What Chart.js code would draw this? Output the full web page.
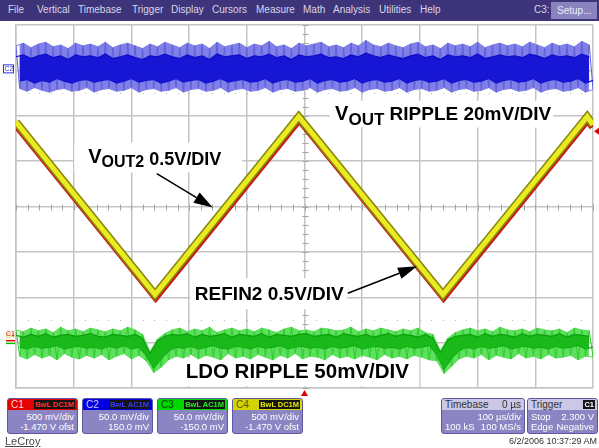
<!DOCTYPE html>
<html><head><meta charset="utf-8">
<script src="https://cdn.jsdelivr.net/npm/chart.js@4.4.0/dist/chart.umd.min.js"></script>
<style>
html,body{margin:0;padding:0;background:#fff;}
#wrap{position:relative;width:599px;height:448px;overflow:hidden;font-family:"Liberation Sans",Arial,sans-serif;}
#c{position:absolute;left:0;top:0;}
#menu{position:absolute;left:0;top:0;width:599px;height:21px;background:#3e3479;}
#menu span{position:absolute;top:4px;font-size:10px;color:#d8d6ea;line-height:12px;white-space:nowrap}
#menu .setup{left:551px;top:2px;width:46px;height:17px;line-height:17px;background:#8983be;color:#ecebf6;text-indent:6px}
.box{position:absolute;top:398px;height:36px;background:#8b86c3;border:1px solid #5d58a0;border-radius:3px;color:#fff;font-size:9.5px;overflow:hidden;box-sizing:border-box}
.hdr{position:absolute;left:0;top:0;right:0;height:11px;line-height:11px;font-size:10px;padding-left:3px}
.bdg{position:absolute;top:1px;height:9px;line-height:9px;font-size:7.5px;background:#141414;padding:0 1px;font-weight:bold}
.r1,.r2,.l1,.l2{position:absolute;line-height:10px;white-space:nowrap}
.r1,.r2{right:3px}.l1,.l2{left:3px}
.r1,.l1{top:13px}.r2,.l2{top:23px}
#logo{position:absolute;left:5px;top:435px;font-size:11px;color:#4a4a4a;text-decoration:underline}
#date{position:absolute;right:2px;top:436px;font-size:9px;color:#333}
</style></head>
<body><div id="wrap">
<canvas id="c" width="599" height="448"></canvas>
<div id="menu"></div>
<div id="panel"></div>
<div id="logo">LeCroy</div>
<div id="date"></div>
</div>
<script>
// ---------- data ----------
const TIME_MIN_US = -500, TIME_MAX_US = 500, TIME_DIV_US = 100;
const DIVS_Y = 8;

// C4 (yellow) and C1 (red) triangle vertices: time (us), volts
const C4_T = [-500, -259, -10, 240, 490, 500];
const C4_V = [2.40, 0.50, 2.46, 0.50, 2.46, 2.37];
const C1_T = [-500, -258, -9, 241, 491, 500];
const C1_V = [2.375, 0.475, 2.435, 0.475, 2.435, 2.345];

// C2 ripple (mV), uniformly sampled over the record (alternating peak / trough samples)
const C2_ENV = [27,-20,30,-23,25,-19,29,-22,31,-24,26,-21,28,-20,24,-23,30,-22,27,-19,
29,-24,26,-21,31,-20,25,-23,28,-22,30,-19,27,-24,24,-21,29,-20,26,-23,
31,-22,28,-19,25,-24,30,-21,27,-20,29,-23,24,-22,31,-19,26,-24,28,-21,
30,-20,25,-23,29,-22,27,-19,32,-24,26,-21,28,-20,24,-23,30,-22,27,-19,
29,-24,31,-21,26,-20,28,-23,25,-22,30,-19,27,-24,33,-21,28,-20,26,-23,
30,-22,27,-19,25,-24,29,-21,31,-20,26,-23,28,-22,24,-19,30,-24,27,-21,
29,-20,26,-23,31,-22,25,-19,28,-24,30,-21,27,-20,29,-23,26,-22,31,-19,
28,-24,25,-21,30,-20,27,-23,29,-22,26,-19,32,-24,28,-21];
const C2_CORE = [15,-12,17,-10,13,-14,16,-11,18,-13,14,-9,16,-12,12,-14,17,-11,15,-10,
16,-13,14,-11,18,-10,13,-14,15,-12,17,-9,14,-13,12,-11,16,-10,15,-14,
18,-12,15,-9,13,-13,17,-11,14,-10,16,-14,12,-12,18,-9,15,-13,16,-11,
17,-10,13,-13,16,-12,15,-9,18,-14,14,-11,16,-10,12,-13,17,-12,15,-9,
16,-14,18,-11,14,-10,15,-13,13,-12,17,-9,15,-14,19,-11,16,-10,14,-13,
17,-12,15,-9,13,-14,16,-11,18,-10,14,-13,16,-12,12,-9,17,-14,15,-11,
16,-10,14,-13,18,-12,13,-9,15,-14,17,-11,15,-10,16,-13,14,-12,18,-9,
16,-14,13,-11,17,-10,15,-13,16,-12,14,-9,18,-14,15,-11];

// C3 LDO ripple (mV): envelope and core, with load-step dips
const C3_ENV = [14,-15,12,-18,16,-13,13,-17,15,-14,11,-19,17,-12,13,-16,15,-18,12,-14,
16,-17,14,-13,12,-19,15,-15,13,-12,17,-18,14,-14,9,-20,-10,-33,4,-27,
10,-19,14,-15,16,-17,12,-13,15,-18,13,-14,17,-16,11,-19,14,-12,16,-17,
13,-15,15,-18,12,-13,16,-16,14,-19,11,-14,15,-17,17,-12,13,-18,14,-15,
12,-16,16,-19,15,-13,13,-17,14,-15,17,-18,12,-14,15,-16,13,-19,16,-13,
14,-17,12,-15,15,-18,13,-14,16,-16,11,-19,9,-20,-9,-34,5,-26,11,-18,
14,-15,16,-17,13,-13,15,-19,12,-14,17,-16,14,-18,13,-12,15,-17,12,-15,
16,-18,14,-13,13,-17,15,-16,11,-14,16,-19,14,-15,13,-16];
const C3_CORE = [8,-5,6,-7,9,-4,7,-6,10,-5,6,-3,8,-7,9,-5,7,-4,8,-6,
10,-5,7,-7,6,-4,9,-6,8,-3,7,-7,9,-5,5,-14,-12,-28,2,-18,
7,-9,9,-5,8,-6,10,-4,6,-7,9,-5,7,-3,8,-6,10,-7,6,-4,
9,-5,8,-7,7,-4,10,-6,6,-5,9,-3,8,-7,7,-5,9,-4,10,-6,
7,-5,8,-7,9,-4,6,-6,10,-5,8,-3,7,-7,9,-5,6,-4,8,-6,
10,-5,7,-7,9,-4,8,-6,6,-5,9,-3,5,-13,-11,-29,3,-17,7,-9,
8,-5,9,-7,6,-4,10,-6,7,-5,9,-3,8,-7,6,-5,10,-4,7,-6,
9,-5,8,-7,7,-4,10,-6,6,-5,9,-3,8,-7,7,-5];

// channel settings
const CH_NAMES = ['C1','C2','C3','C4'];
const CH_VDIV = [0.5, 50, 50, 0.5];          // V/div or mV/div
const CH_OFFSET = [-1.47, 150, -150, -1.47];  // same units
const CH_VDIV_TXT = ['500 mV/div','50.0 mV/div','50.0 mV/div','500 mV/div'];
const CH_OFS_TXT = ['-1.470 V ofst','150.0 mV','-150.0 mV','-1.470 V ofst'];
const CH_COUPLING = ['DC1M','AC1M','AC1M','DC1M'];
const TRIG_LEVEL_V = 2.300, TRIG_TIME_US = 0;

const MENU_ITEMS = ['File','Vertical','Timebase','Trigger','Display','Cursors','Measure','Math','Analysis','Utilities','Help'];
const DATE_TXT = '6/2/2006 10:37:29 AM';

// ---------- layout / style (not data) ----------
const MENU_X = [8,37,78,132,171,212,256,303,333,379,420];
const CH_BOX_X = [7,82,157,232];
const CH_HDR_BG = ['#e60000','#0000e0','#00d800','#d4d400'];
const CH_HDR_FG = ['#ffd8d8','#c8c8ff','#064d06','#5a5a00'];
const CH_BDG_FG = ['#ff3030','#3c3cff','#22ee22','#e6e600'];

const LABELS = [
  {t:-375, d:4.967, parts:[['V',20,0],['OUT2',16,4],[' 0.5V/DIV',18,2]], box:[-399,-108,5.41,4.75]},
  {t:53, d:5.912, parts:[['V',20,0],['OUT',17,5],[' RIPPLE 20mV/DIV',19,0]], box:[44,431,6.33,5.74]},
  {t:-190, d:1.934, parts:[['REFIN2 0.5V/DIV',19,0]], box:[-198,74,2.42,1.74]},
  {t:-206, d:0.22, parts:[['LDO RIPPLE 50mV/DIV',20.5,0]], box:[-216,199,0.66,0.04]}
];
const ARROWS = [ {from:[-256,4.725], to:[-159,3.978]}, {from:[75,2.088], to:[195,2.681]} ];
const DOT_ROWS = [6.5, 1.5];

// ---------- HTML chrome ----------
const menu = document.getElementById('menu');
MENU_ITEMS.forEach((m,i)=>{const s=document.createElement('span');s.textContent=m;s.style.left=MENU_X[i]+'px';menu.appendChild(s);});
{const s=document.createElement('span');s.textContent='C3:';s.style.left='534px';menu.appendChild(s);
 const b=document.createElement('span');b.className='setup';b.textContent='Setup...';menu.appendChild(b);}
const panel = document.getElementById('panel');
CH_NAMES.forEach((n,i)=>{
  const d=document.createElement('div');d.className='box';d.style.left=CH_BOX_X[i]+'px';d.style.width='71px';
  d.innerHTML=`<div class="hdr" style="background:${CH_HDR_BG[i]};color:${CH_HDR_FG[i]}">${n}</div>`+
    `<div class="bdg" style="right:25px;color:${CH_BDG_FG[i]}">BwL</div>`+
    `<div class="bdg" style="right:2px;color:${CH_BDG_FG[i]}">${CH_COUPLING[i]}</div>`+
    `<div class="r1">${CH_VDIV_TXT[i]}</div><div class="r2">${CH_OFS_TXT[i]}</div>`;
  panel.appendChild(d);
});
{
  const tb=document.createElement('div');tb.className='box';tb.style.left='441px';tb.style.width='84px';
  tb.innerHTML=`<div class="hdr" style="background:#cbc7e4;color:#333">Timebase<span style="position:absolute;right:3px">0 µs</span></div>`+
   `<div class="r1">${TIME_DIV_US} µs/div</div><div class="l2">100 kS</div><div class="r2">100 MS/s</div>`;
  panel.appendChild(tb);
  const tr=document.createElement('div');tr.className='box';tr.style.left='527px';tr.style.width='71px';
  tr.innerHTML=`<div class="hdr" style="background:#cbc7e4;color:#333">Trigger</div>`+
   `<div class="bdg" style="right:2px;color:#fff">C1</div>`+
   `<div class="l1">Stop</div><div class="r1">${TRIG_LEVEL_V.toFixed(3)} V</div><div class="l2">Edge</div><div class="r2">Negative</div>`;
  panel.appendChild(tr);
}
document.getElementById('date').textContent = DATE_TXT;

// ---------- chart ----------
const sampled = arr => arr.map((v,i)=>({x: TIME_MIN_US + i*(TIME_MAX_US-TIME_MIN_US)/(arr.length-1), y: v}));
const peaks = arr => sampled(arr).filter((_,i)=>i%2===0);
const troughs = arr => sampled(arr).filter((_,i)=>i%2===1);
const pairs = (t,v) => t.map((x,i)=>({x, y:v[i]}));
const axisRange = i => ({min: -CH_OFFSET[i] - DIVS_Y/2*CH_VDIV[i], max: -CH_OFFSET[i] + DIVS_Y/2*CH_VDIV[i]});

const GRID = 'rgb(196,196,196)';
const scopeDecor = {
  id:'scopeDecor',
  beforeDatasetsDraw(chart){
    const {ctx, scales:{x, yDiv}} = chart;
    ctx.save();
    ctx.strokeStyle='rgb(165,165,165)'; ctx.lineWidth=1;
    const cx = Math.round(x.getPixelForValue(0))+0.5, cy = Math.round(yDiv.getPixelForValue(DIVS_Y/2))+0.5;
    ctx.beginPath();
    for (let i=0;i<=DIVS_Y*5;i++){const y=Math.round(yDiv.getPixelForValue(i/5))+0.5;ctx.moveTo(cx-3,y);ctx.lineTo(cx+3,y);}
    for (let i=0;i<=50;i++){const px=Math.round(x.getPixelForValue(TIME_MIN_US+i*20))+0.5;ctx.moveTo(px,cy-3);ctx.lineTo(px,cy+3);}
    ctx.stroke();
    ctx.fillStyle='rgb(185,185,185)';
    DOT_ROWS.forEach(d=>{const y=Math.round(yDiv.getPixelForValue(d));
      for (let i=1;i<50;i++){const px=Math.round(x.getPixelForValue(TIME_MIN_US+i*20));ctx.fillRect(px,y,1,1);}});
    ctx.fillStyle='#fff';
    LABELS.forEach(L=>{const [t0,t1,d0,d1]=L.box;
      const X0=x.getPixelForValue(t0),X1=x.getPixelForValue(t1),Y0=yDiv.getPixelForValue(d0),Y1=yDiv.getPixelForValue(d1);
      ctx.fillRect(X0,Y0,X1-X0,Y1-Y0);});
    ctx.restore();
  },
  afterDatasetsDraw(chart){
    const {ctx, chartArea:a, scales:{x, yDiv, yV, yC2, yC3}} = chart;
    ctx.save();
    ctx.fillStyle='#000'; ctx.textBaseline='alphabetic';
    LABELS.forEach(L=>{
      let px=x.getPixelForValue(L.t); const py=yDiv.getPixelForValue(L.d);
      L.parts.forEach(([s,sz,dy])=>{ctx.font=`bold ${sz}px "Liberation Sans", Arial, sans-serif`;ctx.fillText(s,px,py+dy);px+=ctx.measureText(s).width;});
    });
    ctx.strokeStyle='#000'; ctx.lineWidth=1.6;
    ARROWS.forEach(A=>{
      const x0=x.getPixelForValue(A.from[0]),y0=yDiv.getPixelForValue(A.from[1]);
      const x1=x.getPixelForValue(A.to[0]),y1=yDiv.getPixelForValue(A.to[1]);
      const ang=Math.atan2(y1-y0,x1-x0), hl=19, hw=6;
      const bx=x1-hl*Math.cos(ang), by=y1-hl*Math.sin(ang);
      ctx.beginPath();ctx.moveTo(x0,y0);ctx.lineTo(bx,by);ctx.stroke();
      ctx.beginPath();ctx.moveTo(x1,y1);
      ctx.lineTo(bx+hw*Math.sin(ang),by-hw*Math.cos(ang));
      ctx.lineTo(bx-hw*Math.sin(ang),by+hw*Math.cos(ang));ctx.closePath();ctx.fill();
    });
    // channel ground markers
    const g2=yC2.getPixelForValue(0);
    ctx.strokeStyle='#3030e0';ctx.lineWidth=1;ctx.strokeRect(3.5,g2-5.5,10,8);
    ctx.font='7px "Liberation Sans", Arial';ctx.fillStyle='#3030e0';ctx.fillText('C2',4.5,g2+1);
    const g4=yV.getPixelForValue(0), g3=yC3.getPixelForValue(0);
    ctx.fillStyle='#c8c800';ctx.fillText('C4',6,g4-2);
    ctx.fillStyle='#e00000';ctx.fillText('C1',6,g4-3.5);
    ctx.fillStyle='#e00000';ctx.fillRect(6,g4,9,1.5);
    ctx.fillStyle='#00c000';ctx.fillRect(6,g3,9,1.5);
    // trigger level marker (right) and trigger position (bottom)
    const ty=yV.getPixelForValue(TRIG_LEVEL_V);
    ctx.fillStyle='#e00000';
    ctx.beginPath();ctx.moveTo(a.right+1,ty);ctx.lineTo(a.right+6,ty-3.5);ctx.lineTo(a.right+6,ty+3.5);ctx.closePath();ctx.fill();
    const tx=x.getPixelForValue(TRIG_TIME_US);
    ctx.beginPath();ctx.moveTo(tx,a.bottom+2);ctx.lineTo(tx-3.5,a.bottom+8);ctx.lineTo(tx+3.5,a.bottom+8);ctx.closePath();ctx.fill();
    ctx.restore();
  }
};

const line = (data, color, width, yAxisID, order, extra={}) => Object.assign({data, borderColor:color, borderWidth:width, yAxisID, xAxisID:'x', order, pointRadius:0, fill:false, tension:0}, extra);

new Chart(document.getElementById('c'), {
  type:'line',
  data:{datasets:[
    line(peaks(C2_ENV),'rgb(128,128,230)',1,'yC2',11,{fill:'+1', backgroundColor:'rgb(128,128,232)'}),
    line(troughs(C2_ENV),'rgb(128,128,230)',1,'yC2',11),
    line(sampled(C2_ENV),'rgb(95,95,222)',1,'yC2',10),
    line(peaks(C2_CORE),'rgb(12,12,200)',1.2,'yC2',9,{fill:'+1', backgroundColor:'rgb(22,22,212)'}),
    line(troughs(C2_CORE),'rgb(12,12,200)',1.2,'yC2',9),
    line(pairs(C1_T,C1_V),'rgb(200,25,25)',8,'yV',8),
    line(pairs(C4_T,C4_V),'rgb(135,135,10)',8,'yV',7),
    line(pairs(C4_T,C4_V),'rgb(235,235,35)',5,'yV',6),
    line(peaks(C3_ENV),'rgb(95,222,95)',1,'yC3',5,{fill:'+1', backgroundColor:'rgb(95,224,95)'}),
    line(troughs(C3_ENV),'rgb(95,222,95)',1,'yC3',5),
    line(sampled(C3_ENV),'rgb(45,205,45)',1,'yC3',4.5),
    line(peaks(C3_CORE),'rgb(10,160,10)',1.2,'yC3',4,{fill:'+1', backgroundColor:'rgb(25,185,25)'}),
    line(troughs(C3_CORE),'rgb(10,160,10)',1.2,'yC3',4)
  ]},
  options:{
    responsive:false, animation:false, devicePixelRatio:1,
    layout:{padding:{left:16, top:25, right:6, bottom:60}},
    plugins:{legend:{display:false}, tooltip:{enabled:false}},
    scales:{
      x:{type:'linear', min:TIME_MIN_US, max:TIME_MAX_US, ticks:{stepSize:TIME_DIV_US, display:false},
         grid:{color:GRID, lineWidth:1.5, drawTicks:false}, border:{display:true, color:GRID, width:1.5}, afterFit(s){s.height=0;}},
      yDiv:{type:'linear', position:'left', min:0, max:DIVS_Y, ticks:{stepSize:1, display:false},
         grid:{color:GRID, lineWidth:1.5, drawTicks:false}, border:{display:true, color:GRID, width:1.5}, afterFit(s){s.width=0;}},
      yV:Object.assign({type:'linear', display:false}, axisRange(0)),
      yC2:Object.assign({type:'linear', display:false}, axisRange(1)),
      yC3:Object.assign({type:'linear', display:false}, axisRange(2))
    }
  },
  plugins:[scopeDecor]
});
</script>
</body></html>
